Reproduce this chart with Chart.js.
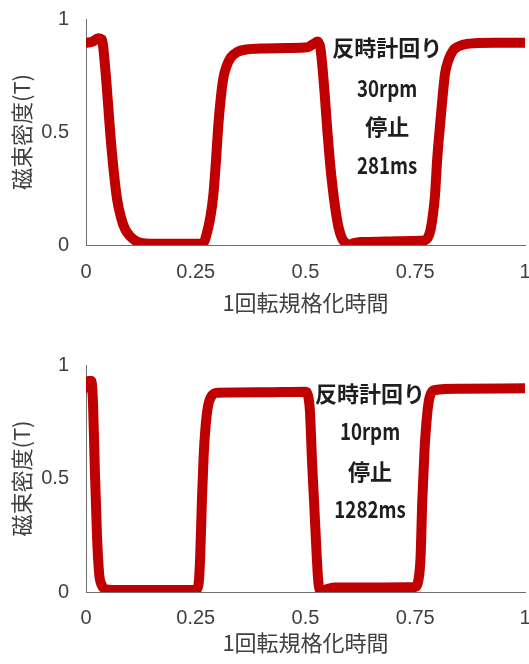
<!DOCTYPE html>
<html lang="ja">
<head>
<meta charset="utf-8">
<title>磁束密度 - 反時計回り停止</title>
<script src="https://cdn.jsdelivr.net/npm/chart.js@4/dist/chart.umd.min.js"></script>
<style>
  html, body { margin: 0; padding: 0; background: #ffffff; }
  body { width: 529px; height: 664px; position: relative; overflow: hidden; }
  .panel { position: absolute; left: 0; width: 529px; height: 332px; }
  #panelTop { top: 0; }
  #panelBottom { top: 332px; }
</style>
</head>
<body>
<div class="panel" id="panelTop"><canvas id="chartTop"></canvas></div>
<div class="panel" id="panelBottom"><canvas id="chartBottom"></canvas></div>
<script>
// Normalised time within one revolution and flux density (T), 30 rpm run
const topTime = [0.000, 0.015, 0.028, 0.036, 0.043, 0.050, 0.055, 0.063, 0.071, 0.080, 0.089, 0.100,
  0.112, 0.125, 0.146, 0.200, 0.250, 0.262, 0.268, 0.275, 0.283, 0.290, 0.296, 0.301, 0.307,
  0.313, 0.320, 0.330, 0.345, 0.365, 0.410, 0.460, 0.505, 0.518, 0.528, 0.534, 0.538, 0.544,
  0.550, 0.556, 0.562, 0.568, 0.575, 0.583, 0.592, 0.600, 0.610, 0.625, 0.680, 0.740, 0.770,
  0.778, 0.784, 0.790, 0.795, 0.800, 0.806, 0.812, 0.818, 0.826, 0.836, 0.850, 0.868, 0.930, 1.000];
const topFlux = [0.895, 0.900, 0.915, 0.910, 0.800, 0.630, 0.500, 0.330, 0.200, 0.120, 0.070, 0.040,
  0.020, 0.010, 0.006, 0.006, 0.006, 0.006, 0.010, 0.050, 0.120, 0.220, 0.370, 0.520, 0.650,
  0.740, 0.790, 0.830, 0.855, 0.865, 0.870, 0.872, 0.875, 0.890, 0.900, 0.870, 0.800, 0.660,
  0.500, 0.360, 0.250, 0.160, 0.080, 0.030, 0.008, 0.002, 0.008, 0.013, 0.015, 0.018, 0.020,
  0.030, 0.060, 0.130, 0.220, 0.380, 0.520, 0.650, 0.760, 0.820, 0.860, 0.880, 0.890, 0.895, 0.895];

// Same measurement, 10 rpm run
const bottomTime = [0.000, 0.006, 0.012, 0.016, 0.020, 0.025, 0.030, 0.036, 0.045, 0.060, 0.150, 0.250,
  0.256, 0.260, 0.264, 0.268, 0.272, 0.278, 0.285, 0.300, 0.400, 0.500, 0.505, 0.510, 0.515,
  0.520, 0.525, 0.529, 0.535, 0.545, 0.565, 0.650, 0.750, 0.757, 0.762, 0.766, 0.771, 0.777,
  0.783, 0.795, 0.850, 1.000];
const bottomFlux = [0.900, 0.930, 0.930, 0.830, 0.550, 0.250, 0.080, 0.030, 0.012, 0.009, 0.009, 0.009,
  0.030, 0.150, 0.400, 0.600, 0.720, 0.820, 0.860, 0.878, 0.880, 0.882, 0.870, 0.800, 0.570,
  0.380, 0.180, 0.050, 0.005, 0.010, 0.020, 0.020, 0.022, 0.050, 0.150, 0.400, 0.620, 0.780,
  0.860, 0.890, 0.895, 0.898];

const xTickValues = [0, 0.25, 0.5, 0.75, 1];
const xTickLabels = ['0', '0.25', '0.5', '0.75', '1'];
const yTickValues = [0, 0.5, 1];
const yTickLabels = ['0', '0.5', '1'];

const xTitle = '1回転規格化時間';
const yTitle = '磁束密度(T)';

const topNote = ['反時計回り', '30rpm', '停止', '281ms'];
const topNoteX = 0.686;
const topNoteY = [0.872, 0.695, 0.522, 0.354];

const bottomNote = ['反時計回り', '10rpm', '停止', '1282ms'];
const bottomNoteX = 0.647;
const bottomNoteY = [0.876, 0.707, 0.529, 0.364];

const LINE_RED = '#c00000';
const AXIS_GREY = '#6f6f6f';
const TEXT_GREY = '#404040';

// Draws the stacked condition notes inside the plot, anchored in data units.
// Half-width (ASCII) lines are squeezed horizontally to get narrow gothic digits.
const notePlugin = {
  id: 'conditionNote',
  afterDatasetsDraw(chart, args, opts) {
    const { ctx, scales } = chart;
    ctx.save();
    ctx.font = 'bold 22px "Noto Sans CJK JP", sans-serif';
    ctx.fillStyle = '#1e1e1e';
    ctx.textAlign = 'center';
    ctx.textBaseline = 'middle';
    const px = scales.x.getPixelForValue(opts.x);
    opts.lines.forEach((t, i) => {
      const py = scales.y.getPixelForValue(opts.ys[i]);
      const ascii = /^[\x20-\x7e]+$/.test(t);
      ctx.save();
      ctx.translate(px, py);
      if (ascii) ctx.scale(0.85, 1.05);
      ctx.fillText(t, 0, 0);
      ctx.restore();
    });
    ctx.restore();
  }
};

function makeChart(canvasId, xs, ys, cfg) {
  const points = xs.map((x, i) => ({ x: x, y: ys[i] }));
  return new Chart(document.getElementById(canvasId), {
    type: 'line',
    data: {
      datasets: [{
        data: points,
        borderColor: LINE_RED,
        borderWidth: 10,
        pointRadius: 0,
        cubicInterpolationMode: 'monotone',
        borderCapStyle: 'round',
        borderJoinStyle: 'round',
        fill: false
      }]
    },
    options: {
      responsive: true,
      maintainAspectRatio: false,
      animation: false,
      layout: { padding: { top: cfg.padTop, right: 4, left: 0, bottom: 0 } },
      plugins: {
        legend: { display: false },
        tooltip: { enabled: false },
        conditionNote: { x: cfg.noteX, ys: cfg.noteY, lines: cfg.note }
      },
      scales: {
        x: {
          type: 'linear',
          min: 0,
          max: 1,
          grid: { display: false, drawTicks: false },
          border: { display: true, color: AXIS_GREY, width: 1 },
          afterBuildTicks(scale) { scale.ticks = xTickValues.map(v => ({ value: v })); },
          afterFit(scale) {
            scale.height = cfg.xHeight;
            scale.paddingLeft = 0;
            scale.paddingRight = 0;
          },
          ticks: {
            padding: cfg.xTickPad,
            maxRotation: 0,
            autoSkip: false,
            color: TEXT_GREY,
            font: { family: '"Liberation Sans", Arial, sans-serif', size: 20 },
            callback(value) {
              const i = xTickValues.indexOf(value);
              return i >= 0 ? xTickLabels[i] : '';
            }
          },
          title: {
            display: true,
            text: xTitle,
            color: TEXT_GREY,
            font: { family: '"Noto Sans CJK JP", sans-serif', size: 22 },
            padding: { top: 0, bottom: cfg.xTitlePad }
          }
        },
        y: {
          type: 'linear',
          min: 0,
          max: 1,
          grid: { display: false, drawTicks: false },
          border: { display: true, color: AXIS_GREY, width: 1 },
          afterBuildTicks(scale) { scale.ticks = yTickValues.map(v => ({ value: v })); },
          afterFit(scale) {
            scale.width = 86;
            scale.paddingTop = 0;
            scale.paddingBottom = 0;
          },
          ticks: {
            padding: 17,
            color: TEXT_GREY,
            font: { family: '"Liberation Sans", Arial, sans-serif', size: 20 },
            callback(value) {
              const i = yTickValues.indexOf(value);
              return i >= 0 ? yTickLabels[i] : '';
            }
          },
          title: {
            display: true,
            text: yTitle,
            color: TEXT_GREY,
            font: { family: '"Noto Sans CJK JP", sans-serif', size: 22 },
            padding: { top: 8, bottom: 0 }
          }
        }
      }
    },
    plugins: [notePlugin]
  });
}

makeChart('chartTop', topTime, topFlux, {
  padTop: 19, xHeight: 87, xTickPad: 15, xTitlePad: 16,
  note: topNote, noteX: topNoteX, noteY: topNoteY
});

makeChart('chartBottom', bottomTime, bottomFlux, {
  padTop: 33, xHeight: 72, xTickPad: 14, xTitlePad: 8,
  note: bottomNote, noteX: bottomNoteX, noteY: bottomNoteY
});
</script>
</body>
</html>
